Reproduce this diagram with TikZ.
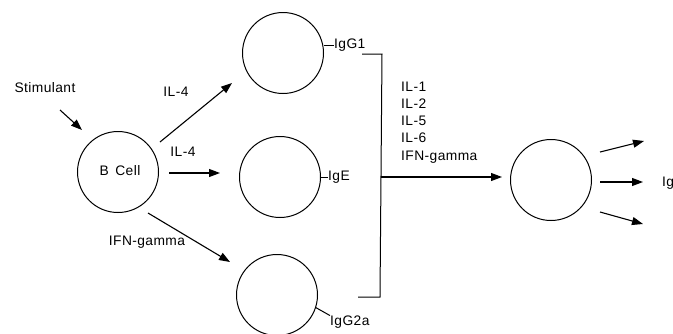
\documentclass[tikz,border=0pt]{standalone}
\usepackage{fontspec}
\setmainfont{Liberation Sans}[LetterSpace=3]
\usetikzlibrary{arrows.meta}
\tikzset{
  cell/.style={draw, circle, line width=1pt, minimum size=81pt, inner sep=0pt},
  lbl/.style={font=\fontsize{13.8}{15}\selectfont, inner sep=0pt},
  arr/.style={line width=1.1pt, -{Triangle[length=11pt,width=8pt]}},
  wire/.style={line width=1pt}
}
\begin{document}
\begin{tikzpicture}[x=1pt,y=-1pt]
\useasboundingbox (0,0) rectangle (673,333);

% cells
\node[cell] (bcell) at (118,172) {};
\node[lbl] at (120,171) {B\, Cell};
\node[cell] (igg1) at (283,53) {};
\node[cell] (ige) at (280,177) {};
\node[cell] (igg2a) at (277,295) {};
\node[cell] (plasma) at (551,180) {};

% stimulant
\node[lbl] (stim) at (45,88) {Stimulant};
\coordinate (s1) at (60,110);
\coordinate (s2) at (82,130);
\draw[arr] (s1) -- (s2);

% B cell to the three cells
\coordinate (a1) at (160,142);
\coordinate (a1e) at (232,83);
\draw[arr] (a1) -- (a1e);
\node[lbl] at (176,92) {IL-4};
\coordinate (a2) at (169,173);
\coordinate (a2e) at (220,173);
\draw[arr] (a2) -- (a2e);
\node[lbl] at (183,152) {IL-4};
\coordinate (a3) at (148,213);
\coordinate (a3e) at (230,262);
\draw[arr] (a3) -- (a3e);
\node[lbl] at (147,242) {IFN-gamma};

% isotype labels
\node[lbl, anchor=west] (l1) at (334,45) {IgG1};
\draw[wire] (igg1.east) ++(0,-8) -- (l1.west);
\node[lbl, anchor=west] (l2) at (328,177) {IgE};
\draw[wire] (ige.east) -- (l2.west);
\node[lbl, anchor=west] (l3) at (330,322) {IgG2a};
\draw[wire] (igg2a.-18) -- (l3.north west);

% bracket
\coordinate (b1) at (362,54);
\coordinate (b2) at (382,54);
\coordinate (b3) at (380,297);
\coordinate (b4) at (358,297);
\draw[wire] (b1) -- (b2) -- (b3) -- (b4);
\coordinate (m1) at (381,177);
\coordinate (m2) at (502,177);
\draw[arr] (m1) -- (m2);

% cytokines
\node[lbl, anchor=west] at (401,87) {IL-1};
\node[lbl, anchor=west] at (401,104) {IL-2};
\node[lbl, anchor=west] at (401,121) {IL-5};
\node[lbl, anchor=west] at (401,138) {IL-6};
\node[lbl, anchor=west] at (401,157) {IFN-gamma};

% output arrows
\coordinate (o1) at (600,152);
\coordinate (o1e) at (644,141);
\draw[arr] (o1) -- (o1e);
\coordinate (o2) at (600,182);
\coordinate (o2e) at (643,182);
\draw[arr] (o2) -- (o2e);
\coordinate (o3) at (600,212);
\coordinate (o3e) at (643,224);
\draw[arr] (o3) -- (o3e);
\node[lbl, anchor=west] at (662,183) {Ig};
\end{tikzpicture}
\end{document}
